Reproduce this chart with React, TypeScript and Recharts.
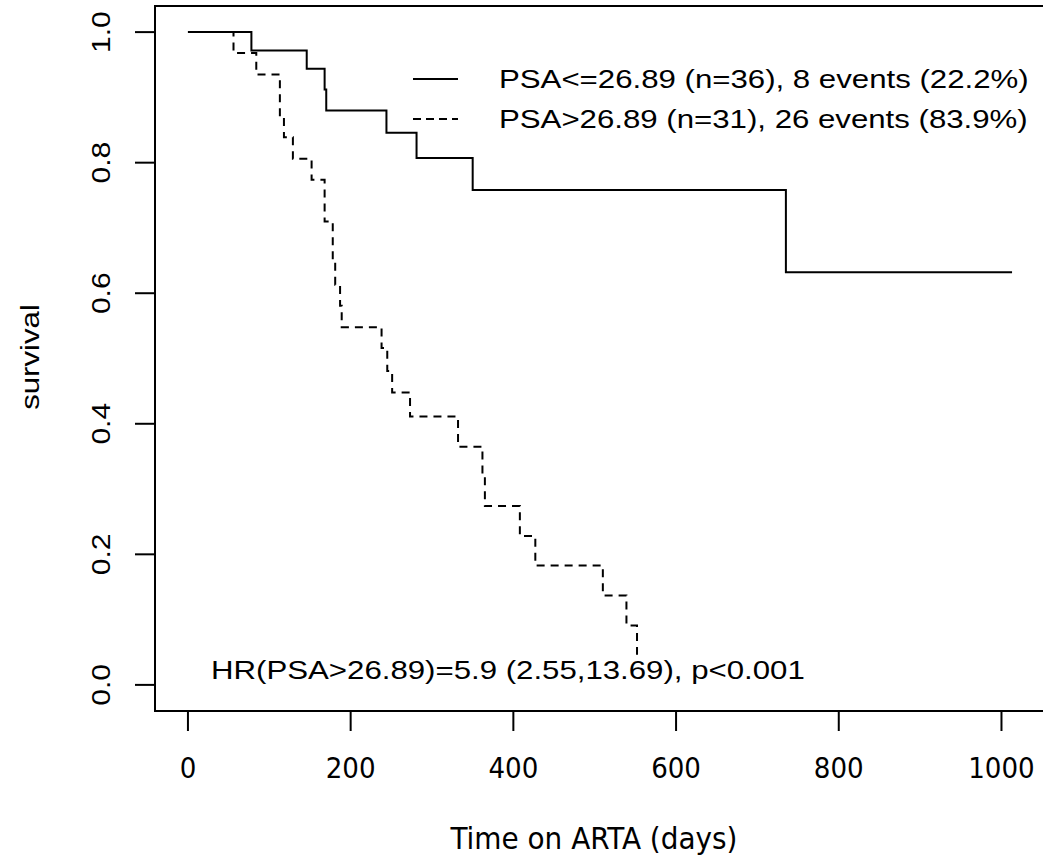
import React from 'react'
import { LineChart, Line, XAxis, YAxis, ReferenceArea } from 'recharts'

// ─── data ───────────────────────────────────────────────────────────────────
// Kaplan-Meier steps (time in days, survival)
const lowTimes = [0, 78, 146, 168, 170, 244, 281, 350, 735, 1013]
const lowSurv = [1, 0.972, 0.944, 0.912, 0.88, 0.846, 0.807, 0.758, 0.632, 0.632]

const highTimes = [
  0, 56, 84, 113, 118, 129, 152, 168, 178, 181, 187, 189, 238, 245, 251, 273,
  332, 362, 365, 408, 427, 510, 539, 552,
]
const highSurv = [
  1, 0.968, 0.935, 0.871, 0.839, 0.806, 0.774, 0.71, 0.645, 0.613, 0.581, 0.548,
  0.516, 0.481, 0.448, 0.411, 0.365, 0.32, 0.274, 0.228, 0.183, 0.137, 0.091, 0.046,
]

const xTicks = [0, 200, 400, 600, 800, 1000]
const yTicks = [0, 0.2, 0.4, 0.6, 0.8, 1.0]

const legendLabels = [
  'PSA<=26.89 (n=36), 8 events (22.2%)',
  'PSA>26.89 (n=31), 26 events (83.9%)',
]
const hrText = 'HR(PSA>26.89)=5.9 (2.55,13.69), p<0.001'

const lowData = lowTimes.map((t, i) => ({ t, s: lowSurv[i] }))
const highData = highTimes.map((t, i) => ({ t, s: highSurv[i] }))

const ARIAL = '"Liberation Sans", Arial, sans-serif'
const NARROW = '"Liberation Sans Narrow", "DejaVu Sans Condensed", "Liberation Sans", sans-serif'
// the R text in the picture is stretched ~1.2x along its run
const STRETCH = 1.2

// R pads each axis range by 4%
const X_DOMAIN = [-40.5, 1053.5]
const Y_DOMAIN = [-0.04, 1.04]

function YTick({ y, payload }: any) {
  return (
    <g>
      <line x1={135} x2={155} y1={y} y2={y} stroke="#000" strokeWidth={2} />
      <text
        x={0}
        y={0}
        transform={`translate(101, ${y}) rotate(-90) scale(${STRETCH}, 1)`}
        textAnchor="middle"
        dy={9}
        fontSize={25}
        fontFamily={ARIAL}
        fill="#000"
      >
        {Number(payload.value).toFixed(1)}
      </text>
    </g>
  )
}

function XTick({ x, payload }: any) {
  return (
    <g>
      <line x1={x} x2={x} y1={711} y2={731} stroke="#000" strokeWidth={2} />
      <text x={x} y={778} textAnchor="middle" fontSize={29} fontFamily={NARROW} fill="#000">
        {payload.value}
      </text>
    </g>
  )
}

export default function App() {
  return (
    <div
      style={{
        position: 'absolute',
        left: 0,
        top: 0,
        width: 1043,
        height: 858,
        overflow: 'hidden',
        background: '#fff',
      }}
    >
      <LineChart
        width={1045}
        height={858}
        margin={{ top: 6, right: 0, bottom: 0, left: 0 }}
      >
        <XAxis
          type="number"
          dataKey="t"
          domain={X_DOMAIN}
          ticks={xTicks}
          allowDataOverflow
          axisLine={false}
          tickLine={false}
          height={147}
          tick={<XTick />}
        />
        <YAxis
          type="number"
          dataKey="s"
          domain={Y_DOMAIN}
          ticks={yTicks}
          allowDataOverflow
          axisLine={false}
          tickLine={false}
          width={155}
          tick={<YTick />}
        />
        <ReferenceArea
          x1={X_DOMAIN[0]}
          x2={X_DOMAIN[1]}
          y1={Y_DOMAIN[0]}
          y2={Y_DOMAIN[1]}
          fill="none"
          stroke="#000"
          strokeWidth={2}
          ifOverflow="visible"
        />
        <Line
          data={lowData}
          dataKey="s"
          type="stepAfter"
          stroke="#000"
          strokeWidth={2}
          dot={false}
          isAnimationActive={false}
        />
        <Line
          data={highData}
          dataKey="s"
          type="stepAfter"
          stroke="#000"
          strokeWidth={2}
          strokeDasharray="8 6"
          dot={false}
          isAnimationActive={false}
        />
      </LineChart>

      {/* annotations: legend, HR line, axis titles */}
      <svg
        width={1043}
        height={858}
        style={{ position: 'absolute', left: 0, top: 0, pointerEvents: 'none' }}
      >
        <line x1={413} x2={458} y1={79} y2={79} stroke="#000" strokeWidth={2} />
        <line x1={413} x2={458} y1={119} y2={119} stroke="#000" strokeWidth={2} strokeDasharray="8 5" />
        {legendLabels.map((lbl, i) => (
          <text
            key={lbl}
            x={0}
            y={0}
            transform={`translate(499, ${88 + i * 40}) scale(${STRETCH}, 1)`}
            fontSize={26}
            fontFamily={ARIAL}
            fill="#000"
          >
            {lbl}
          </text>
        ))}
        <text
          x={0}
          y={0}
          transform={`translate(211, 679) scale(${STRETCH}, 1)`}
          fontSize={26}
          fontFamily={ARIAL}
          fill="#000"
        >
          {hrText}
        </text>
        <text
          x={0}
          y={0}
          transform={`translate(30, 357) rotate(-90) scale(${STRETCH}, 1)`}
          textAnchor="middle"
          dy={9}
          fontSize={26}
          fontFamily={ARIAL}
          fill="#000"
        >
          survival
        </text>
        <text x={594} y={849} textAnchor="middle" fontSize={31} fontFamily={NARROW} fill="#000">
          Time on ARTA (days)
        </text>
      </svg>
    </div>
  )
}
